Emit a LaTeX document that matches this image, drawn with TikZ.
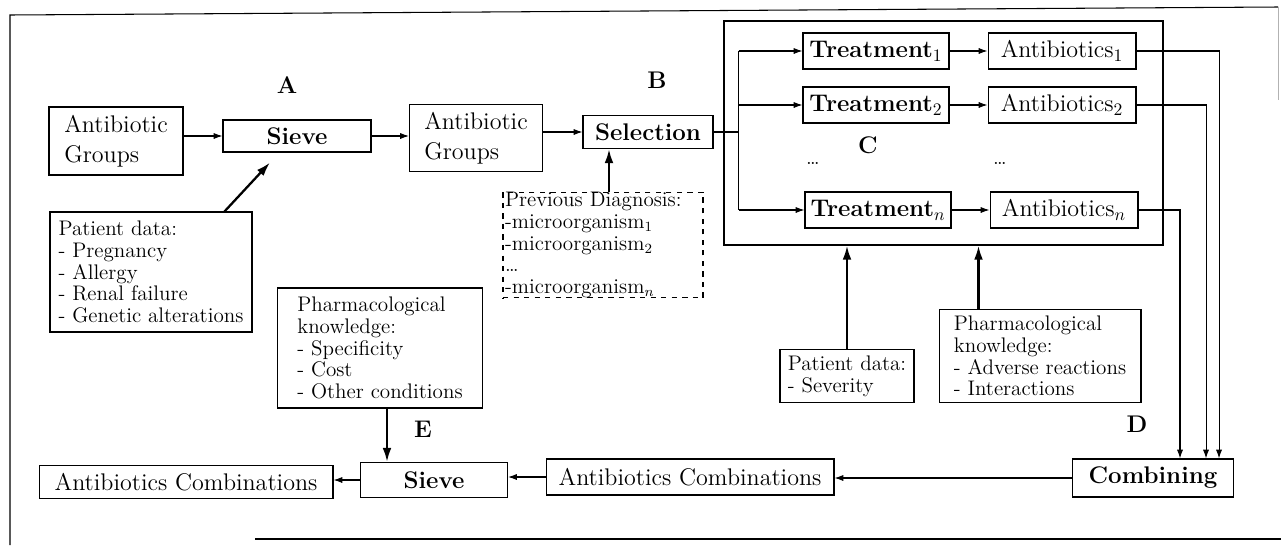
\documentclass[tikz,border=0pt]{standalone}
\usetikzlibrary{arrows.meta,calc}
\newcommand\bigtxt{\fontsize{13.7}{17}\selectfont}
\newcommand\smalltxt{\fontsize{12}{12.4}\selectfont}
\tikzset{
  box/.style={draw, line width=0.6pt, inner sep=0pt, font=\bigtxt},
  info/.style={draw, line width=0.6pt, inner sep=0pt, align=left, font=\smalltxt},
  tag/.style={font=\bigtxt\bfseries},
  flow/.style={-{Latex[length=5pt,width=3.5pt]}, line width=0.6pt},
  feed/.style={-{Latex[length=8pt,width=5pt]}, line width=1.3pt}
}
\begin{document}
\begin{tikzpicture}[x=0.02cm, y=-0.02cm]
  \useasboundingbox (0,0) rectangle (1281,545);
  % frame
  \draw[line width=0.6pt] (10,545) -- (10,15) -- (1278,7);
  \draw[line width=0.4pt, gray!60] (1278,7) -- (1278,100);
  \draw[line width=0.6pt] (255,539) -- (1281,539);
  % first row
  \path (116,141) node (grp1) [box, align=left, minimum width=2.68cm, minimum height=1.36cm] {Antibiotic\\Groups};
  \path (297,136) node (sieveA) [box, minimum width=2.96cm, minimum height=0.64cm] {\textbf{Sieve}};
  \path (476,138) node (grp2) [box, align=left, minimum width=2.66cm, minimum height=1.34cm] {Antibiotic\\Groups};
  \path (648,132) node (sel) [box, minimum width=2.6cm, minimum height=0.66cm] {\textbf{Selection}};
  \path (287,85) node (tagA) [tag] {A};
  \path (657,80) node (tagB) [tag] {B};
  \path (151,272) node (patA) [info, minimum width=4.04cm, minimum height=2.4cm]
    {Patient data:\\- Pregnancy\\- Allergy\\- Renal failure\\- Genetic alterations};
  \path (603,245) node (diag) [info, dashed, text width=3.92cm, inner xsep=0.04cm, minimum height=2.1cm]
    {Previous Diagnosis:\\-microorganism$_1$\\-microorganism$_2$\\\dots\\-microorganism$_n$};
  % treatments
  \path (943.5,133) node (encl) [draw, line width=0.7pt, minimum width=8.78cm, minimum height=4.48cm] {};
  \path (876,51) node (t1) [box, minimum width=2.92cm, minimum height=0.72cm] {\textbf{Treatment}$_1$};
  \path (876,105) node (t2) [box, minimum width=2.92cm, minimum height=0.72cm] {\textbf{Treatment}$_2$};
  \path (878,210) node (tn) [box, minimum width=2.92cm, minimum height=0.72cm] {\textbf{Treatment}$_n$};
  \path (1062,51) node (ab1) [box, minimum width=2.96cm, minimum height=0.72cm] {Antibiotics$_1$};
  \path (1062,105) node (ab2) [box, minimum width=2.96cm, minimum height=0.72cm] {Antibiotics$_2$};
  \path (1064,210) node (abn) [box, minimum width=2.96cm, minimum height=0.72cm] {Antibiotics$_n$};
  \path (813,163) node (dots1) [font=\smalltxt] {\dots};
  \path (1000,163) node (dots2) [font=\smalltxt] {\dots};
  \path (868,145) node (tagC) [tag] {C};
  \path (847,376) node (sev) [info, minimum width=2.68cm, minimum height=1.06cm] {Patient data:\\- Severity};
  \path (1040,356) node (pharmD) [info, minimum width=4.04cm, minimum height=1.86cm]
    {Pharmacological\\knowledge:\\- Adverse reactions\\- Interactions};
  \path (1137,424) node (tagD) [tag] {D};
  % bottom row
  \path (1153,478) node (comb) [box, minimum width=3.22cm, minimum height=0.76cm] {\textbf{Combining}};
  \path (690,477) node (ac2) [box, minimum width=5.76cm, minimum height=0.72cm] {Antibiotics Combinations};
  \path (434,480) node (sieveE) [box, minimum width=2.94cm, minimum height=0.7cm] {\textbf{Sieve}};
  \path (186,482) node (ac3) [box, minimum width=5.88cm, minimum height=0.66cm] {Antibiotics Combinations};
  \path (380,348) node (pharmE) [info, minimum width=4.1cm, minimum height=2.4cm]
    {Pharmacological\\knowledge:\\- Specificity\\- Cost\\- Other conditions};
  \path (423,429) node (tagE) [tag] {E};
  % connectors
  \draw[flow] (sieveA.west -| grp1.east) -- (sieveA.west);
  \draw[flow] (sieveA.east) -- (sieveA.east -| grp2.west);
  \draw[flow] (sel.west -| grp2.east) -- (sel.west);
  \coordinate (pa) at ($(patA.north west)+(175,0)$);
  \coordinate (sa) at ($(sieveA.south)+(-27,10)$);
  \draw[feed] (pa) -- (sa);
  \coordinate (dg) at ($(diag.north)+(6,0)$);
  \draw[feed] (dg) -- (dg |- sel.south);
  \coordinate (bus) at ($(sel.east)+(25,0)$);
  \draw[line width=0.6pt] (sel.east) -- (bus);
  \draw[line width=0.6pt] (bus |- t1.west) -- (bus |- tn.west);
  \draw[flow] (bus |- t1.west) -- (t1.west);
  \draw[flow] (bus |- t2.west) -- (t2.west);
  \draw[flow] (bus |- tn.west) -- (tn.west);
  \draw[flow] (t1.east) -- (ab1.west);
  \draw[flow] (t2.east) -- (ab2.west);
  \draw[flow] (tn.east) -- (abn.west);
  \draw[flow] (ab1.east) -| ($(comb.north east)+(-15,0)$);
  \draw[flow] (ab2.east) -| ($(comb.north east)+(-28,0)$);
  \draw[flow] (abn.east) -| ($(comb.north east)+(-54,0)$);
  \draw[feed] (sev.north) -- (sev.north |- encl.south);
  \coordinate (pk) at ($(pharmD.north west)+(40,0)$);
  \draw[feed] (pk) -- (pk |- encl.south);
  \draw[flow] (comb.west) -- (comb.west -| ac2.east);
  \draw[flow] (ac2.west) -- (ac2.west -| sieveE.east);
  \draw[flow] (sieveE.west) -- (sieveE.west -| ac3.east);
  \coordinate (pe) at ($(pharmE.south)+(7,0)$);
  \draw[feed] (pe) -- (pe |- sieveE.north);
\end{tikzpicture}
\end{document}
